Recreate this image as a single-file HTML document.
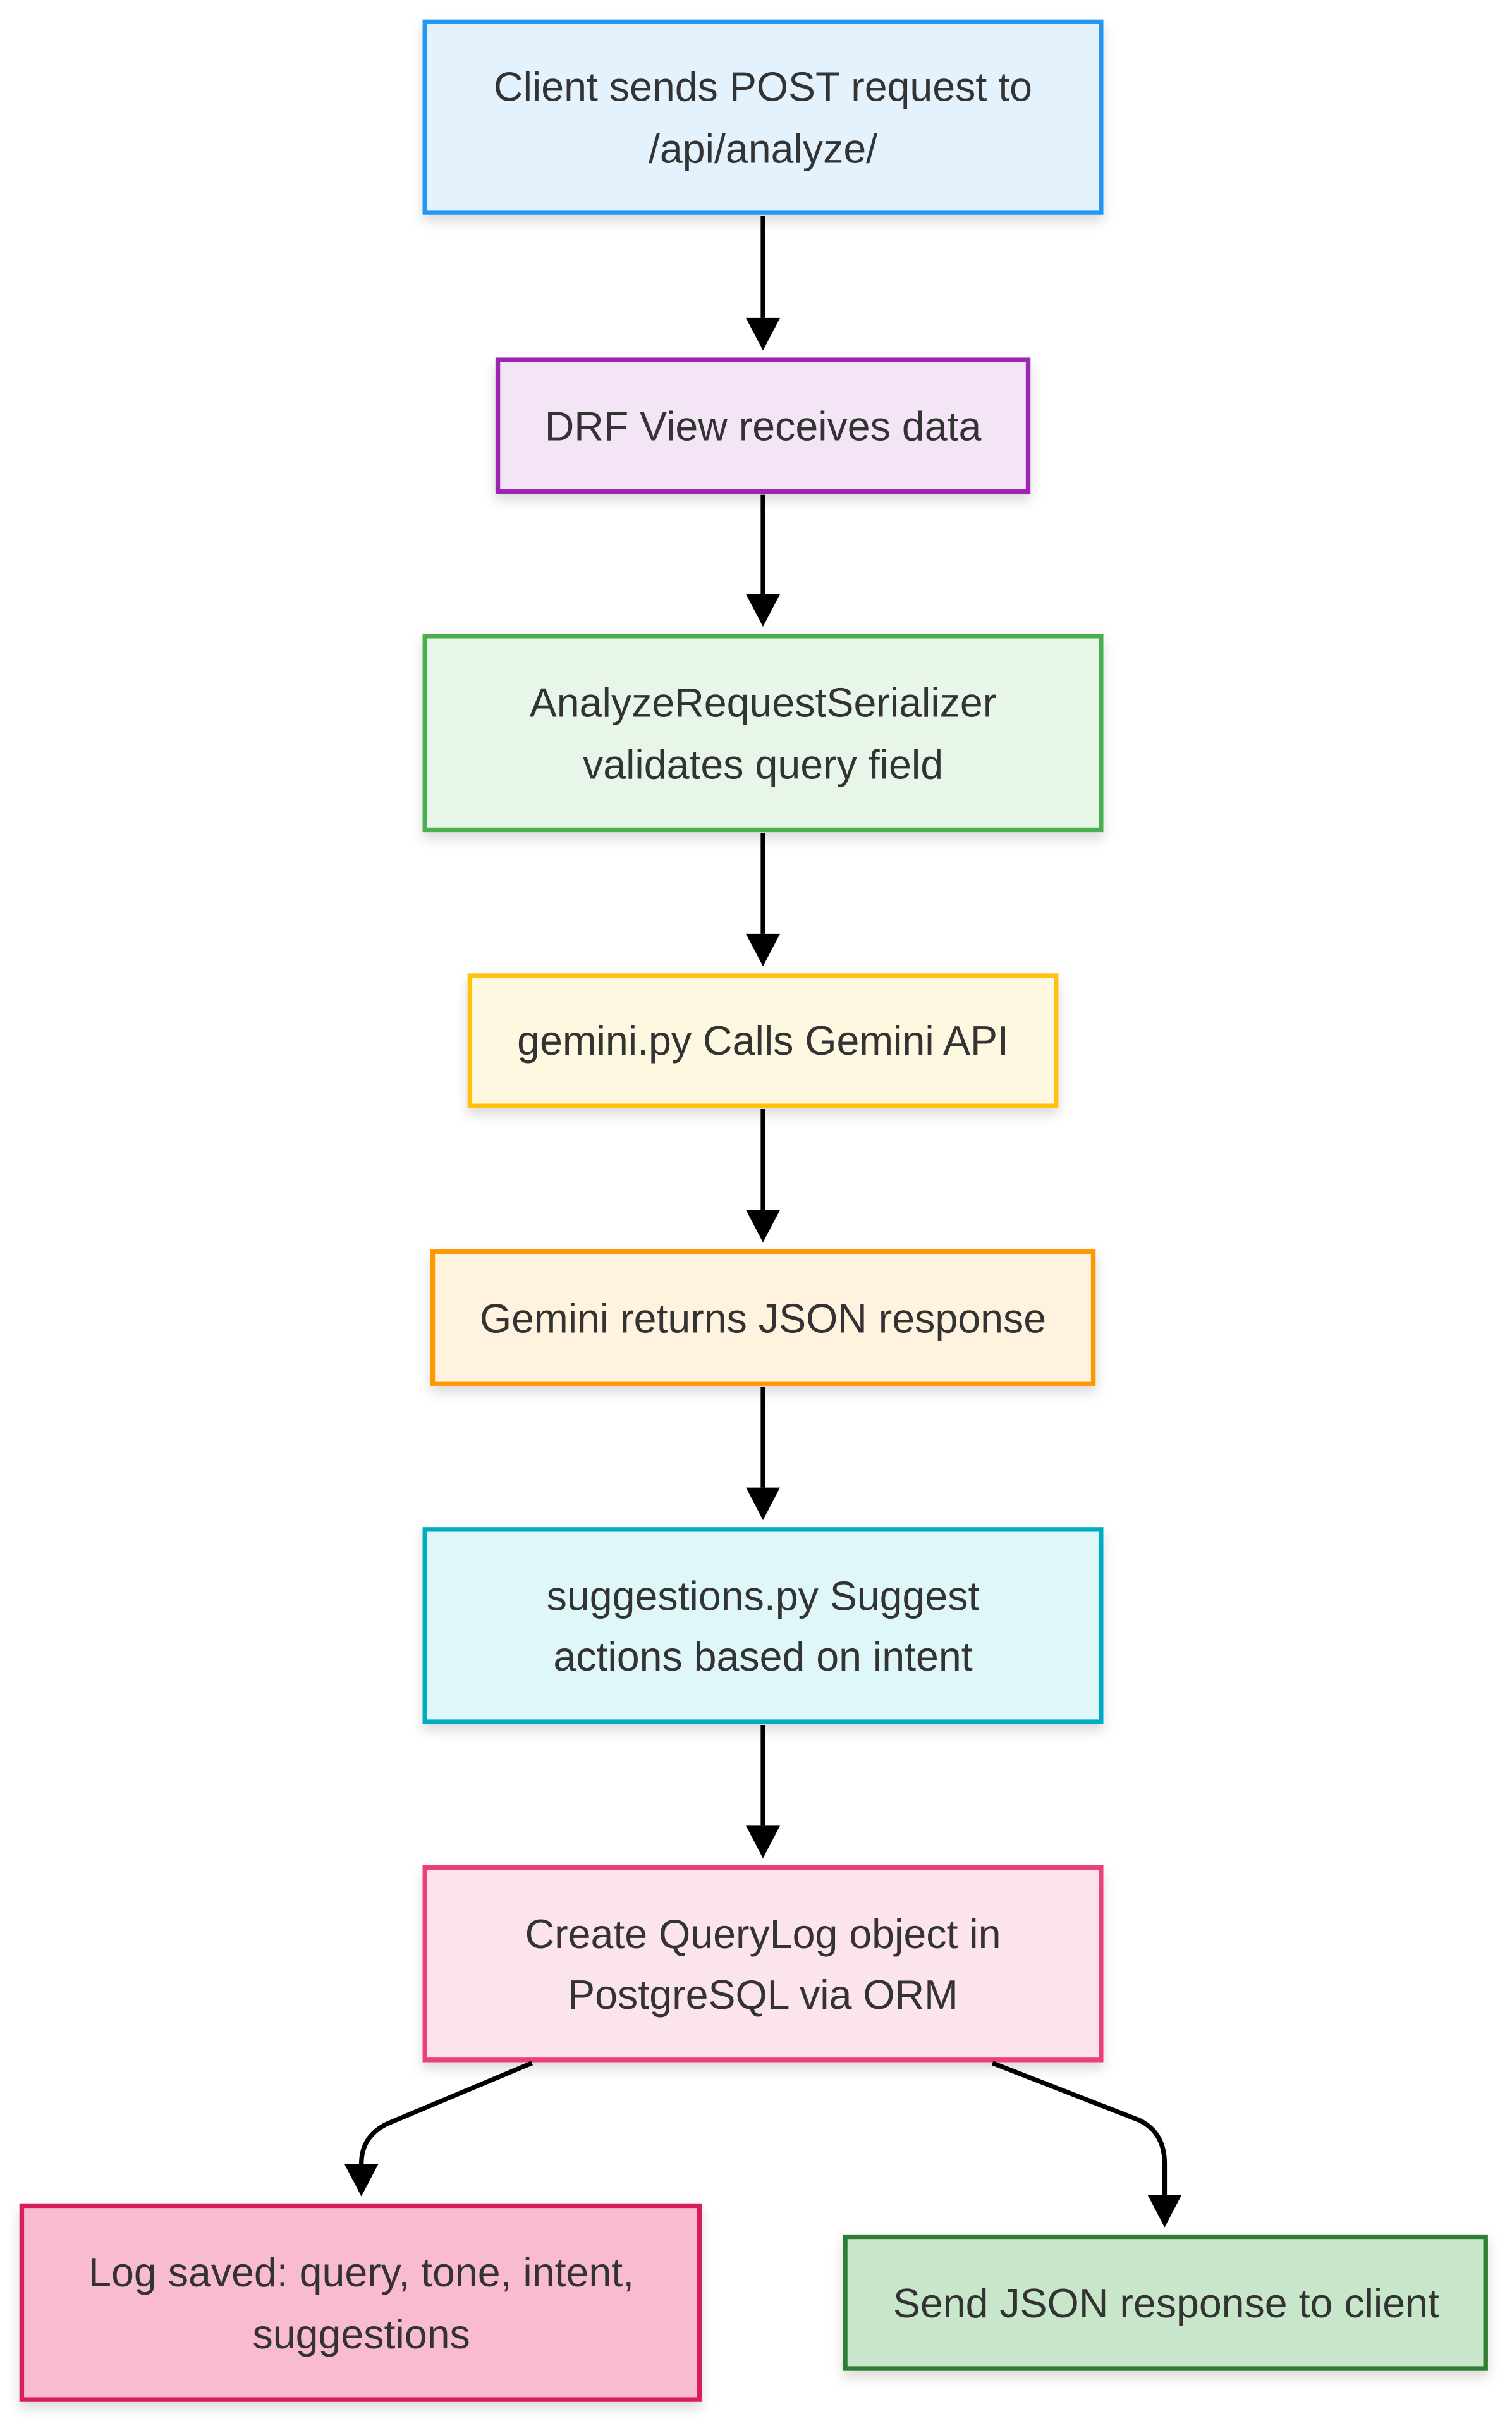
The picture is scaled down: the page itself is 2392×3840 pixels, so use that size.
<!DOCTYPE html>
<html><head><meta charset="utf-8"><style>
html,body{margin:0;padding:0;background:#fff}
svg{display:block}
text{font-family:"Liberation Sans",Arial,sans-serif;font-size:26.3px;fill:#333;text-anchor:middle}
</style></head><body>
<svg width="2392" height="3840" viewBox="0 0 975 1565.3" xmlns="http://www.w3.org/2000/svg">
<defs>
<filter id="sh" x="-10%" y="-10%" width="120%" height="140%"><feDropShadow dx="0" dy="4" stdDeviation="4" flood-color="#000" flood-opacity="0.15"/></filter>
</defs>
<g stroke-width="3">
<rect x="274" y="14" width="436" height="123" fill="#e3f2fd" stroke="#2196f3" filter="url(#sh)"/>
<rect x="321" y="232" width="342" height="85" fill="#f3e5f5" stroke="#9c27b0" filter="url(#sh)"/>
<rect x="274" y="410" width="436" height="125" fill="#e8f5e9" stroke="#4caf50" filter="url(#sh)"/>
<rect x="303" y="629" width="378" height="84" fill="#fff8e1" stroke="#ffc107" filter="url(#sh)"/>
<rect x="279" y="807" width="426" height="85" fill="#fff3e0" stroke="#ff9800" filter="url(#sh)"/>
<rect x="274" y="986" width="436" height="124" fill="#e0f7fa" stroke="#00acc1" filter="url(#sh)"/>
<rect x="274" y="1204" width="436" height="124" fill="#fce4ec" stroke="#ec407a" filter="url(#sh)"/>
<rect x="14" y="1422" width="437" height="125" fill="#f8bbd0" stroke="#d81b60" filter="url(#sh)"/>
<rect x="545" y="1442" width="413" height="85" fill="#c8e6c9" stroke="#2e7d32" filter="url(#sh)"/>
</g>
<g stroke="#000" stroke-width="3" fill="none">
<path d="M492 139V205"/>
<path d="M492 319V383"/>
<path d="M492 537V602"/>
<path d="M492 715V780"/>
<path d="M492 894V959"/>
<path d="M492 1112V1177"/>
<path d="M343 1330L250 1369Q233 1377 233 1395V1397"/>
<path d="M640 1330L735 1367Q751 1375 751 1395V1417"/>
</g>
<g fill="#000">
<path d="M481 205h22l-11 21z"/>
<path d="M481 383h22l-11 21z"/>
<path d="M481 602h22l-11 21z"/>
<path d="M481 780h22l-11 21z"/>
<path d="M481 959h22l-11 21z"/>
<path d="M481 1177h22l-11 21z"/>
<path d="M222 1395h22l-11 21z"/>
<path d="M740 1415h22l-11 21z"/>
</g>
<text x="492" y="65">Client sends POST request to</text>
<text x="492" y="105">/api/analyze/</text>
<text x="492" y="284">DRF View receives data</text>
<text x="492" y="462">AnalyzeRequestSerializer</text>
<text x="492" y="502">validates query field</text>
<text x="492" y="680">gemini.py Calls Gemini API</text>
<text x="492" y="859">Gemini returns JSON response</text>
<text x="492" y="1038">suggestions.py Suggest</text>
<text x="492" y="1077">actions based on intent</text>
<text x="492" y="1256">Create QueryLog object in</text>
<text x="492" y="1295">PostgreSQL via ORM</text>
<text x="233" y="1474">Log saved: query, tone, intent,</text>
<text x="233" y="1514">suggestions</text>
<text x="752" y="1494">Send JSON response to client</text>
</svg>
</body></html>
